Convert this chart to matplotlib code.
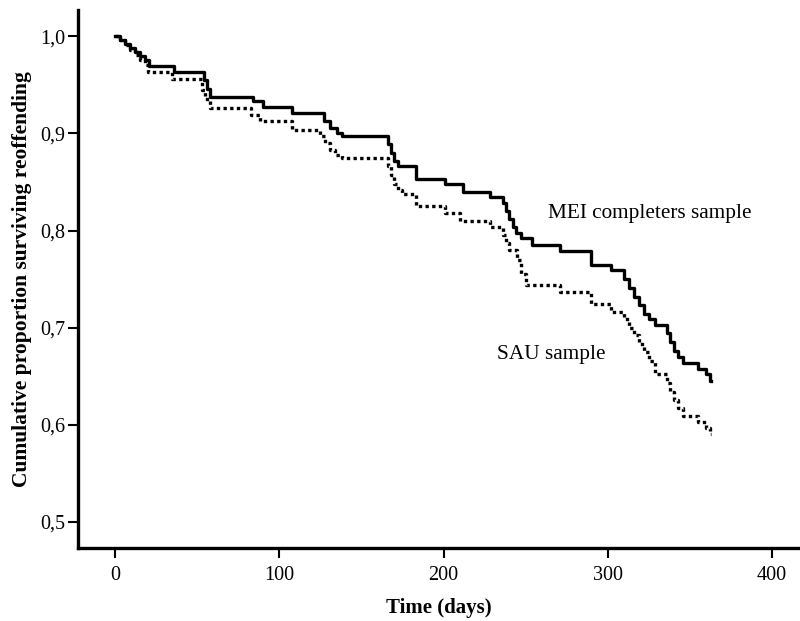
import numpy as np
import matplotlib
matplotlib.use("Agg")
import matplotlib.pyplot as plt
from matplotlib.ticker import FuncFormatter

plt.rcParams['font.family'] = ['Liberation Serif', 'DejaVu Serif']

# survival steps (days, cumulative proportion)
mei_days = [0, 3, 6, 9, 12, 15, 18, 21, 36, 54, 56, 58, 84, 90, 108, 127, 131,
            135, 138, 166, 168, 170, 172, 183, 201, 212, 228, 236, 238, 240,
            242, 244, 247, 254, 271, 290, 302, 310, 313, 316, 319, 322, 325,
            329, 336, 338, 340, 343, 346, 355, 360, 362, 363]
mei_surv = [1.0, 0.996, 0.992, 0.988, 0.984, 0.980, 0.976, 0.970, 0.963, 0.955,
            0.946, 0.938, 0.933, 0.927, 0.921, 0.913, 0.906, 0.900, 0.897,
            0.889, 0.880, 0.872, 0.866, 0.853, 0.848, 0.840, 0.835, 0.828,
            0.820, 0.812, 0.804, 0.797, 0.792, 0.785, 0.779, 0.765, 0.759,
            0.750, 0.741, 0.732, 0.723, 0.714, 0.709, 0.703, 0.694, 0.685,
            0.676, 0.670, 0.664, 0.657, 0.652, 0.645, 0.645]

sau_days = [0, 3, 6, 9, 12, 15, 18, 20, 35, 53, 55, 58, 83, 88, 108, 125, 128,
            131, 134, 138, 166, 168, 170, 172, 175, 183, 201, 210, 228, 236,
            238, 240, 245, 247, 250, 271, 290, 302, 310, 313, 316, 319, 322,
            325, 329, 336, 338, 340, 343, 346, 355, 360, 362, 363]
sau_surv = [1.0, 0.996, 0.991, 0.986, 0.981, 0.976, 0.971, 0.963, 0.956, 0.945,
            0.935, 0.926, 0.919, 0.913, 0.904, 0.897, 0.890, 0.883, 0.878,
            0.875, 0.866, 0.857, 0.848, 0.842, 0.838, 0.825, 0.818, 0.810,
            0.804, 0.795, 0.787, 0.780, 0.770, 0.755, 0.744, 0.737, 0.724,
            0.716, 0.709, 0.700, 0.692, 0.683, 0.675, 0.666, 0.652, 0.643,
            0.634, 0.625, 0.617, 0.609, 0.603, 0.597, 0.590, 0.590]

fig = plt.figure(figsize=(8, 6.21), dpi=100)
ax = fig.add_axes([0.0975, 0.1176, 0.9025, 0.866])

ax.step(mei_days, mei_surv, where='post', color='black', lw=2.4)
ax.step(sau_days, sau_surv, where='post', color='black', lw=2.4,
        linestyle=(0, (1, 1)))

ax.text(263.5, 0.818, 'MEI completers sample', fontsize=15.3, va='center')
ax.text(232.5, 0.672, 'SAU sample', fontsize=15.3, va='center')

ax.set_xlim(-22.5, 417)
ax.set_ylim(0.473, 1.027)
ax.set_xticks([0, 100, 200, 300, 400])
ax.set_yticks([0.5, 0.6, 0.7, 0.8, 0.9, 1.0])
ax.yaxis.set_major_formatter(FuncFormatter(lambda v, p: f"{v:.1f}".replace('.', ',')))

for s in ['top', 'right']:
    ax.spines[s].set_visible(False)
for s in ['left', 'bottom']:
    ax.spines[s].set_linewidth(2.4)
ax.tick_params(direction='out', length=7, width=1.5, labelsize=14.5)
ax.tick_params(axis='x', pad=6)
ax.tick_params(axis='y', pad=2)

ax.set_xlabel('Time (days)', fontsize=15, fontweight='bold', labelpad=9)
ax.set_ylabel('Cumulative proportion surviving reoffending', fontsize=15.5,
              fontweight='bold', labelpad=6)

fig.savefig('out.png', dpi=100)
